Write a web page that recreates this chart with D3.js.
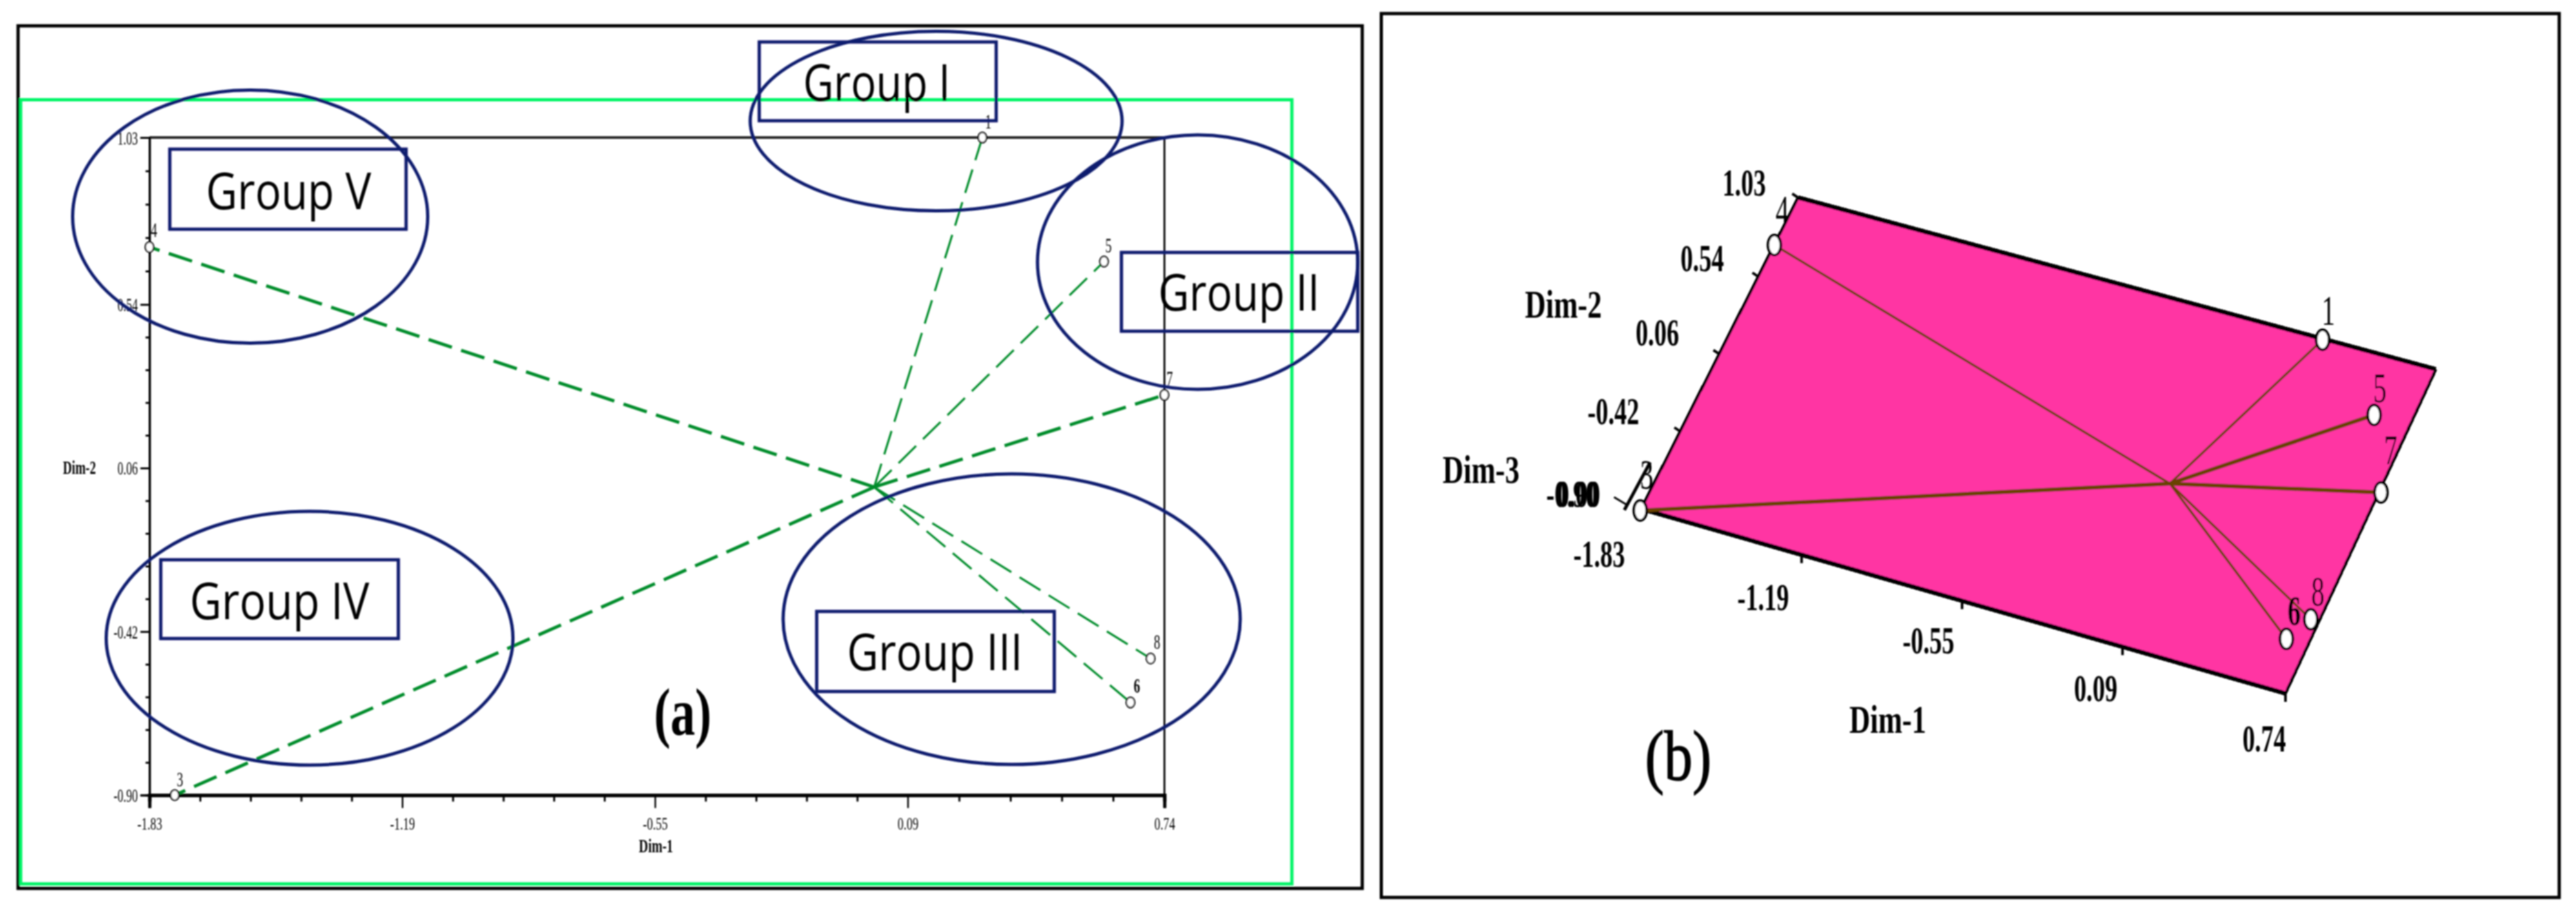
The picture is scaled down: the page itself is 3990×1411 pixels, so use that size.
<!DOCTYPE html>
<html><head><meta charset="utf-8">
<script src="https://cdn.jsdelivr.net/npm/d3@7"></script>
<style>html,body{margin:0;padding:0;background:#fff}svg{display:block}</style>
</head><body><svg id="c" width="3990" height="1411"></svg>
<script>
// ---------- data ----------
const pointLabels = ['1','3','4','5','6','7','8'];
const dim1A = [0.279,-1.766,-1.83,0.587,0.654,0.74,0.705];
const dim2A = [1.03,-0.90,0.7085,0.666,-0.628,0.2745,-0.499];
const originA = [0.005,0.004];
const dim1B = [0.285,-1.83,-1.829,0.595,0.654,0.748,0.708];
const dim2B = [1.025,-0.911,0.736,0.70,-0.612,0.30,-0.472];
const originB = [-0.016,0.037];
const xMajor = [-1.83,-1.19,-0.55,0.09,0.74];
const yMajor = [-0.90,-0.42,0.06,0.54,1.03];
const groupNames = ['Group I','Group II','Group III','Group IV','Group V'];

// ---------- layout & style ----------
const NAVY='#0e1a6e', GREEN='#00f566', LINEG='#008c2c', BROWN='#6b4300', PINK='#ff36a3';
const ellipses=[[1450,187.5,288,139],[1855,406,248,197],[1567,959,354,225],[479.5,988.5,315,196.5],[387.5,335.5,275,196]];
const boxes=[[1176,65,367,122],[1737,391,366,122],[1265,947,368,124],[249,867,368,122],[263,231,366,124]];
const texts=[[1244,156,228],[1794,481,250],[1312,1038,272],[294,958.5,278],[319,323.5,256]];
const thickA=new Set(['3','4','7']);
const thickB=new Set(['3','5','7']);
const SERIF="'Liberation Serif','Times New Roman',serif";
const labelOffsetA={'1':[9,-14],'3':[8,-14],'4':[7,-16],'5':[7,-14],'6':[10,-15],'7':[8,-15],'8':[10,-15]};
const labelOffsetB={'1':[9,-23],'3':[10,-34],'4':[12,-32],'5':[9,-20],'6':[12,-22],'7':[15,-44],'8':[11,-21]};
const fmt=d=>d.toFixed(2);

const svg=d3.select('#c');
svg.append('rect').attr('width',3990).attr('height',1411).attr('fill','#fff');
svg.append('defs').append('filter').attr('id','soft').attr('filterUnits','userSpaceOnUse')
  .attr('x',0).attr('y',0).attr('width',3990).attr('height',1411)
  .append('feGaussianBlur').attr('stdDeviation',0.9);
const root=svg.append('g').attr('filter','url(#soft)');

function txt(g,x,y,s,size,sx,anchor,weight,fam,fill){
  return g.append('text').attr('transform',`translate(${x},${y}) scale(${sx},1)`)
    .attr('text-anchor',anchor||'middle').attr('font-family',fam||SERIF)
    .attr('font-weight',weight||'normal').attr('font-size',size).attr('fill',fill||'#000').text(s);
}
const subdiv=(a,n)=>d3.range(a.length-1).flatMap(k=>d3.range(1,n).map(i=>a[k]+(a[k+1]-a[k])*i/n));
const xMinor=subdiv(xMajor,5);
const yMinor=subdiv(yMajor,5);

// ========== panel (a) ==========
const A=root.append('g');
A.append('rect').attr('x',28).attr('y',40).attr('width',2082).attr('height',1336)
 .attr('fill','none').attr('stroke','#000').attr('stroke-width',5);
A.append('rect').attr('x',32).attr('y',154.5).attr('width',1969).attr('height',1214.5)
 .attr('fill','none').attr('stroke',GREEN).attr('stroke-width',5);

const x=d3.scaleLinear().domain([-1.83,0.74]).range([231.5,1803.6]);
const y=d3.scaleLinear().domain([-0.90,1.03]).range([1231.5,213]);

// frame
A.append('line').attr('x1',x(-1.83)).attr('x2',x(0.74)).attr('y1',y(1.03)).attr('y2',y(1.03)).attr('stroke','#222').attr('stroke-width',4);
A.append('line').attr('x1',x(0.74)).attr('x2',x(0.74)).attr('y1',y(1.03)).attr('y2',y(-0.9)).attr('stroke','#111').attr('stroke-width',3);

const gx=A.append('g').attr('transform',`translate(0,${y(-0.9)})`);
gx.append('g').call(d3.axisBottom(x).tickValues(xMinor).tickSize(10).tickFormat('')).call(s=>s.selectAll('line').attr('stroke-width',3));
const gxM=gx.append('g').call(d3.axisBottom(x).tickValues(xMajor).tickSize(20).tickFormat(fmt));
gxM.selectAll('line').attr('stroke-width',2.5);
gx.selectAll('.domain').attr('stroke-width',5);
gxM.selectAll('text').attr('x',0).attr('y',0).attr('dy',null)
  .attr('transform','translate(0,53) scale(0.66,1)')
  .attr('font-family',SERIF).attr('font-size',28).attr('fill','#000');

const gy=A.append('g').attr('transform',`translate(${x(-1.83)},0)`);
gy.append('g').call(d3.axisLeft(y).tickValues(yMinor).tickSize(6).tickFormat('')).call(s=>s.selectAll('line').attr('stroke-width',3));
const gyM=gy.append('g').call(d3.axisLeft(y).tickValues(yMajor).tickSize(14).tickFormat(fmt));
gyM.selectAll('line').attr('stroke-width',3);
gy.selectAll('.domain').attr('stroke-width',3);
gyM.selectAll('text').attr('x',0).attr('dy',null).attr('y',0)
  .attr('transform','translate(-18,10) scale(0.62,1)')
  .attr('text-anchor','end').attr('font-family',SERIF).attr('font-size',29).attr('fill','#000');

txt(A,123,734,'Dim-2',29,0.66,'middle','bold');
txt(A,1016,1320,'Dim-1',30,0.66,'middle','bold');

// loadings
const rowsA=pointLabels.map((l,i)=>({l,p:[dim1A[i],dim2A[i]]}));
const lineA=d3.line().x(d=>x(d[0])).y(d=>y(d[1]));
A.selectAll('path.load').data(rowsA).join('path').attr('class','load')
 .attr('d',d=>lineA([originA,d.p])).attr('fill','none').attr('stroke',LINEG)
 .attr('stroke-width',d=>thickA.has(d.l)?5:3.2).attr('stroke-dasharray','38 15');
A.selectAll('ellipse.pt').data(rowsA).join('ellipse').attr('class','pt')
 .attr('cx',d=>x(d.p[0])).attr('cy',d=>y(d.p[1])).attr('rx',6.5).attr('ry',8)
 .attr('fill','#fff').attr('stroke','#111').attr('stroke-width',2.5);
rowsA.forEach(d=>{const o=labelOffsetA[d.l];
  txt(A,x(d.p[0])+o[0],y(d.p[1])+o[1],d.l,32,0.62,'middle',d.l==='6'?'bold':'normal');});

// annotations
ellipses.forEach(e=>A.append('ellipse').attr('cx',e[0]).attr('cy',e[1]).attr('rx',e[2]).attr('ry',e[3])
  .attr('fill','none').attr('stroke',NAVY).attr('stroke-width',5));
boxes.forEach(b=>A.append('rect').attr('x',b[0]).attr('y',b[1]).attr('width',b[2]).attr('height',b[3])
  .attr('fill','none').attr('stroke',NAVY).attr('stroke-width',5));
groupNames.forEach((n,i)=>{const t=texts[i];
  A.append('text').attr('x',t[0]).attr('y',t[1]).attr('font-family',"'Open Sans',sans-serif")
   .attr('font-size',78).attr('textLength',t[2]).attr('lengthAdjust','spacingAndGlyphs').attr('fill','#000').text(n);});
A.append('text').attr('x',1013).attr('y',1138).attr('font-family',SERIF).attr('font-weight','bold')
 .attr('font-size',104).attr('textLength',89).attr('lengthAdjust','spacingAndGlyphs').attr('fill','#000').text('(a)');

// ========== panel (b) ==========
const B=root.append('g');
B.append('rect').attr('x',2139.5).attr('y',21).attr('width',1824.5).attr('height',1369)
 .attr('fill','none').attr('stroke','#000').attr('stroke-width',5);

const u=d3.scaleLinear().domain(x.domain()).range([0,1]);
const v=d3.scaleLinear().domain(y.domain()).range([0,1]);
const cBL=[2542,788],cBR=[3540,1074],cTL=[2785,306],cTR=[3773,572];
const proj=(p)=>{const a=u(p[0]),b=v(p[1]);
  const f=k=>(1-b)*((1-a)*cBL[k]+a*cBR[k])+b*((1-a)*cTL[k]+a*cTR[k]);
  return [f(0),f(1)];};
const [xa,xb]=x.domain(), [ya,yb]=y.domain();
B.append('path').attr('d',d3.line()([[xa,ya],[xb,ya],[xb,yb],[xa,yb]].map(proj))+'Z')
 .attr('fill',PINK).attr('stroke','none');
const edge=(p,q,w)=>B.append('path').attr('d',d3.line()([proj(p),proj(q)])).attr('stroke','#000')
 .attr('stroke-width',w).attr('fill','none').attr('shape-rendering','crispEdges');
edge([xa,yb],[xb,yb],7); edge([xa,ya],[xb,ya],7); edge([xa,ya],[xa,yb],4.5); edge([xb,ya],[xb,yb],4.5);

// axis ticks on the plane's edges
xMajor.forEach(t=>{const p=proj([t,ya]);
  B.append('line').attr('x1',p[0]).attr('y1',p[1]).attr('x2',p[0]).attr('y2',p[1]+13).attr('stroke','#000').attr('stroke-width',4);});
yMajor.forEach(t=>{const p=proj([xa,t]);
  B.append('line').attr('x1',p[0]).attr('y1',p[1]).attr('x2',p[0]-9).attr('y2',p[1]-6).attr('stroke','#000').attr('stroke-width',4);});
// Dim-3 stub
const pc=proj([xa,ya]);
B.append('line').attr('x1',pc[0]-26).attr('y1',pc[1]+2).attr('x2',pc[0]+14).attr('y2',pc[1]-72).attr('stroke','#000').attr('stroke-width',5);
B.append('line').attr('x1',pc[0]-42).attr('y1',pc[1]-18).attr('x2',pc[0]-22).attr('y2',pc[1]-6).attr('stroke','#000').attr('stroke-width',3);

// tick labels
const bTickX={'-1.83':[2477,878],'-1.19':[2731,945],'-0.55':[2987,1012],'0.09':[3246,1085.5],'0.74':[3507,1163.5]};
const bTickY={'1.03':[2701.5,303],'0.54':[2636.5,419.5],'0.06':[2567,535],'-0.42':[2499,656.7],'-0.90':[2435,785]};
xMajor.forEach(t=>{const s=fmt(t),q=bTickX[s];txt(B,q[0],q[1],s,60,0.64,'middle','bold');});
yMajor.forEach(t=>{const s=fmt(t),q=bTickY[s];txt(B,q[0],q[1],s,60,0.64,'middle','bold');});
txt(B,2445,785,'0.00',60,0.64,'middle','bold');
txt(B,2421.5,492,'Dim-2',62,0.72,'middle','bold');
txt(B,2294,747.5,'Dim-3',62,0.72,'middle','bold');
txt(B,2924,1134.5,'Dim-1',62,0.72,'middle','bold');
B.append('text').attr('x',2548).attr('y',1208).attr('font-family',SERIF).attr('font-size',110)
 .attr('textLength',103).attr('lengthAdjust','spacingAndGlyphs').attr('fill','#000')
 .attr('stroke','#000').attr('stroke-width',1.5).text('(b)');

const rowsB=pointLabels.map((l,i)=>({l,p:[dim1B[i],dim2B[i]]}));
const lineB=d3.line().x(d=>proj(d)[0]).y(d=>proj(d)[1]);
B.selectAll('path.load').data(rowsB).join('path').attr('class','load')
 .attr('d',d=>lineB([originB,d.p])).attr('fill','none').attr('stroke',BROWN)
 .attr('stroke-width',d=>thickB.has(d.l)?6:3.5);
B.selectAll('ellipse.pt').data(rowsB).join('ellipse').attr('class','pt')
 .attr('cx',d=>proj(d.p)[0]).attr('cy',d=>proj(d.p)[1]).attr('rx',10).attr('ry',15.5)
 .attr('fill','#fff').attr('stroke','#000').attr('stroke-width',4);
rowsB.forEach(d=>{const o=labelOffsetB[d.l],q=proj(d.p);
  txt(B,q[0]+o[0],q[1]+o[1],d.l,66,0.62,'middle',d.l==='6'?'bold':'normal');});
</script></body></html>
